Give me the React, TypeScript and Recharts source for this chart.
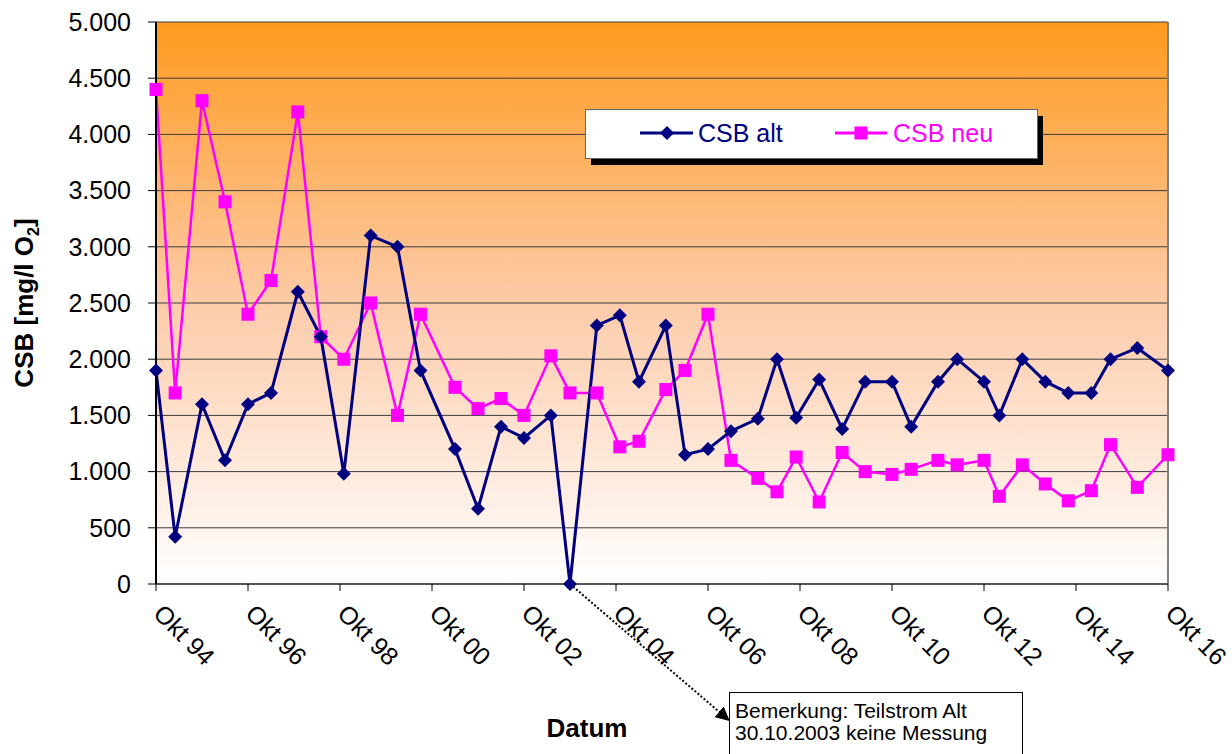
import React from 'react';
import { LineChart, Line, XAxis, YAxis, CartesianGrid, ReferenceLine, Label } from 'recharts';

// sampling dates (year-month)
const sampleDates = [
  '1994-10', '1995-03', '1995-10', '1996-04', '1996-10', '1997-04', '1997-11', '1998-05',
  '1998-11', '1999-06', '2000-01', '2000-07', '2001-04', '2001-10', '2002-04', '2002-10',
  '2003-05', '2003-10', '2004-05', '2004-11', '2005-04', '2005-11', '2006-04', '2006-10',
  '2007-04', '2007-11', '2008-04', '2008-09', '2009-03', '2009-09', '2010-03', '2010-10',
  '2011-03', '2011-10', '2012-03', '2012-10', '2013-02', '2013-08', '2014-02', '2014-08',
  '2015-02', '2015-07', '2016-02', '2016-10',
];

// CSB in mg/l O2
const csbAlt = [
  1900, 420, 1600, 1100, 1600, 1700, 2600, 2200,
  980, 3100, 3000, 1900, 1200, 670, 1400, 1300,
  1500, 0, 2300, 2390, 1800, 2300, 1150, 1200,
  1360, 1470, 2000, 1480, 1820, 1380, 1800, 1800,
  1400, 1800, 2000, 1800, 1500, 2000, 1800, 1700,
  1700, 2000, 2100, 1900,
];

const csbNeu = [
  4400, 1700, 4300, 3400, 2400, 2700, 4200, 2200,
  2000, 2500, 1500, 2400, 1750, 1560, 1650, 1500,
  2030, 1700, 1700, 1220, 1270, 1730, 1900, 2400,
  1100, 940, 820, 1130, 730, 1170, 1000, 975,
  1020, 1100, 1060, 1100, 780, 1060, 890, 740,
  830, 1240, 860, 1150,
];

const yTicks = [0, 500, 1000, 1500, 2000, 2500, 3000, 3500, 4000, 4500, 5000];
const tickYears = [1994, 1996, 1998, 2000, 2002, 2004, 2006, 2008, 2010, 2012, 2014, 2016];

// missing measurement note
const noteDate = '2003-10';
const noteLines = ['Bemerkung: Teilstrom Alt', '30.10.2003 keine Messung'];

const toYear = (d: string) => {
  const [y, m] = d.split('-').map(Number);
  return y + (m - 1) / 12;
};

const data = sampleDates.map((d, i) => ({ t: toYear(d), alt: csbAlt[i], neu: csbNeu[i] }));

const FONT = '"Liberation Sans", Arial, sans-serif';
const NAVY = '#000080';
const PINK = '#FF00FF';

const fmt = (v: number) => (v >= 1000 ? `${Math.floor(v / 1000)}.${String(v % 1000).padStart(3, '0')}` : String(v));

const Diamond = (props: any) => {
  const { cx, cy } = props;
  if (cx == null || cy == null) return null;
  const r = 7;
  return <path d={`M${cx},${cy - r}L${cx + r},${cy}L${cx},${cy + r}L${cx - r},${cy}Z`} fill={NAVY} />;
};

const Square = (props: any) => {
  const { cx, cy } = props;
  if (cx == null || cy == null) return null;
  const r = 6.5;
  return <rect x={cx - r} y={cy - r} width={2 * r} height={2 * r} fill={PINK} />;
};

const OktTick = (props: any) => {
  const { x, y, payload } = props;
  const yr = String(Math.floor(payload.value) % 100).padStart(2, '0');
  return (
    <text transform={`translate(${x - 4},${y + 22}) rotate(45)`} fontSize={25} fontFamily={FONT} fill="#000">
      {`Okt ${yr}`}
    </text>
  );
};

const YTitle = (props: any) => {
  const { viewBox } = props;
  const cx = viewBox.x + 33;
  const cy = viewBox.y + viewBox.height / 2;
  return (
    <text transform={`translate(${cx},${cy}) rotate(-90)`} textAnchor="middle" fontSize={26} fontWeight="bold" fontFamily={FONT} fill="#000">
      CSB [mg/l O<tspan dy={6} fontSize={16}>2</tspan><tspan dy={-6}>]</tspan>
    </text>
  );
};

const XTitle = (props: any) => {
  const { viewBox } = props;
  return (
    <text x={viewBox.x + 431} y={viewBox.y + 153} textAnchor="middle" fontSize={26} fontWeight="bold" fontFamily={FONT} fill="#000">
      Datum
    </text>
  );
};

function LegendBox() {
  return (
    <svg width={470} height={70} style={{ position: 'absolute', left: 580, top: 104 }}>
      <rect x={11} y={12} width={452} height={49} fill="#000" />
      <rect x={5.5} y={5.5} width={452} height={49} fill="#fff" stroke="#666" />
      <line x1={60} y1={29} x2={113} y2={29} stroke={NAVY} strokeWidth={3} />
      <Diamond cx={87} cy={29} />
      <text x={118} y={38} fontSize={25} fontFamily={FONT} fill={NAVY}>CSB alt</text>
      <line x1={255} y1={29} x2={307} y2={29} stroke={PINK} strokeWidth={3} />
      <Square cx={281} cy={29} />
      <text x={313} y={38} fontSize={25} fontFamily={FONT} fill={PINK}>CSB neu</text>
    </svg>
  );
}

function NoteBox() {
  return (
    <div
      style={{
        position: 'absolute', left: 729, top: 692, width: 294, height: 80,
        border: '1px solid #000', background: '#fff', boxSizing: 'border-box',
        fontFamily: FONT, fontSize: 21, lineHeight: '22px',
        padding: '7px 0 0 5px', color: '#000', whiteSpace: 'nowrap',
      }}
    >
      {noteLines.map(l => <div key={l}>{l}</div>)}
    </div>
  );
}

export default function App() {
  const noteX = toYear(noteDate);
  return (
    <div style={{ position: 'absolute', left: 0, top: 0, width: 1232, height: 754, overflow: 'hidden', background: '#fff' }}>
      <LineChart width={1232} height={754} data={data} margin={{ top: 22, right: 64, bottom: 0, left: 0 }}>
        <defs>
          <linearGradient id="plotBg" x1="0" y1="0" x2="0" y2="1">
            <stop offset="0%" stopColor="#FF9A1E" />
            <stop offset="50%" stopColor="#FDCBA9" />
            <stop offset="100%" stopColor="#FFFFFF" />
          </linearGradient>
          <marker id="arrowHead" viewBox="0 0 10 10" refX="9" refY="5" markerWidth="14" markerHeight="14" markerUnits="userSpaceOnUse" orient="auto">
            <path d="M0,0L10,5L0,10Z" fill="#000" />
          </marker>
        </defs>
        <CartesianGrid vertical={false} stroke="#3c3c3c" fill="url(#plotBg)" fillOpacity={1} />
        <XAxis
          type="number"
          dataKey="t"
          domain={[1994.75, 2016.75]}
          ticks={tickYears.map(y => y + 0.75)}
          interval={0}
          height={170}
          tickSize={7}
          tick={<OktTick />}
          stroke="#000"
          axisLine={{ stroke: '#555', strokeWidth: 2 }}
        >
          <Label content={<XTitle />} />
        </XAxis>
        <YAxis
          type="number"
          domain={[0, 5000]}
          ticks={yTicks}
          interval={0}
          width={156}
          tickSize={8}
          tickMargin={17}
          tickFormatter={fmt}
          tick={{ fontSize: 25, fontFamily: FONT, fill: '#000' }}
          stroke="#000"
          axisLine={{ stroke: '#000', strokeWidth: 2 }}
        >
          <Label content={<YTitle />} />
        </YAxis>
        <ReferenceLine x={2016.75} stroke="#808080" strokeWidth={2} />
        <Line type="linear" dataKey="neu" stroke={PINK} strokeWidth={2.5} dot={<Square />} activeDot={false} isAnimationActive={false} />
        <Line type="linear" dataKey="alt" stroke={NAVY} strokeWidth={3} dot={<Diamond />} activeDot={false} isAnimationActive={false} />
        <ReferenceLine
          segment={[{ x: noteX, y: 0 }, { x: 2007.2, y: -1210 }]}
          ifOverflow="visible"
          stroke="#000"
          strokeWidth={2}
          strokeDasharray="2 2"
          markerEnd="url(#arrowHead)"
        />
      </LineChart>
      <LegendBox />
      <NoteBox />
    </div>
  );
}
